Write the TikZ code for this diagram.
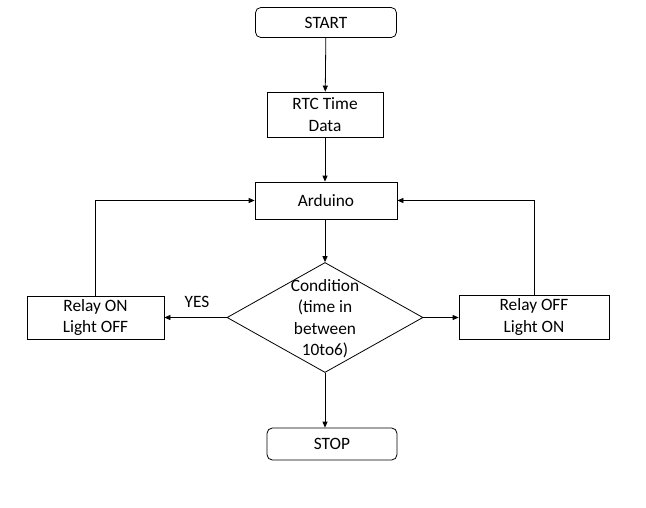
\documentclass[tikz,border=0pt]{standalone}
\usepackage{fontspec}
\setmainfont{Carlito}
\usepackage{tikz}
\usetikzlibrary{shapes.geometric,arrows.meta}

\tikzset{
  base/.style={draw, line width=0.6pt, inner sep=0pt, align=center,
               font=\fontsize{13}{15.9}\selectfont},
  terminal/.style={base, rounded corners=4pt},
  process/.style={base},
  decision/.style={base, diamond},
  flow/.style={line width=0.6pt, -{Triangle[length=4.5pt,width=3.8pt]}}
}

\begin{document}
\begin{tikzpicture}[x=0.75pt, y=-0.75pt]
    \useasboundingbox (0,0) rectangle (646,507);

    % main column
    \node[terminal, minimum width=105.75pt, minimum height=22.5pt] (start) at (326,22.5) {START};
    \node[process, minimum width=87pt, minimum height=33.75pt] (rtc) at (325,114.5) {RTC Time\\Data};
    \node[process, minimum width=106.5pt, minimum height=27.75pt] (ard) at (326,200.5) {Arduino};
    \node[decision, minimum width=147pt, minimum height=82.5pt] (cond) at (325,317.5) {};
    \node[align=center, inner sep=0pt, font=\fontsize{13}{16.1}\selectfont] (condtxt) at ([yshift=-1pt]cond) {Condition\\(time in\\between\\10to6)};
    \node[terminal, minimum width=97.5pt, minimum height=24pt] (stop) at (332,444) {STOP};

    % side boxes
    \node[process, minimum width=102.75pt, minimum height=32.25pt] (on) at (95.5,317.5) {Relay ON\\Light OFF};
    \node[process, minimum width=112.5pt, minimum height=33pt] (off) at (534,317) {Relay OFF\\Light ON};
    \node[font=\fontsize{13}{15}\selectfont, inner sep=0pt] (yes) at (197,302) {YES};

    \draw[flow] (start) -- (rtc);
    \draw[flow] (rtc.south) -- (rtc.south |- ard.north);
    \draw[flow] (ard.south -| cond.north) -- (cond.north);
    \draw[flow] (cond.south) -- (cond.south |- stop.north);
    \draw[flow] (cond.west) -- (on.east |- cond.west);
    \draw[flow] (cond.east) -- (off.west |- cond.east);
    \draw[flow] (on.north) |- (ard.west);
    \draw[flow] (off.north) |- (ard.east);
\end{tikzpicture}
\end{document}
